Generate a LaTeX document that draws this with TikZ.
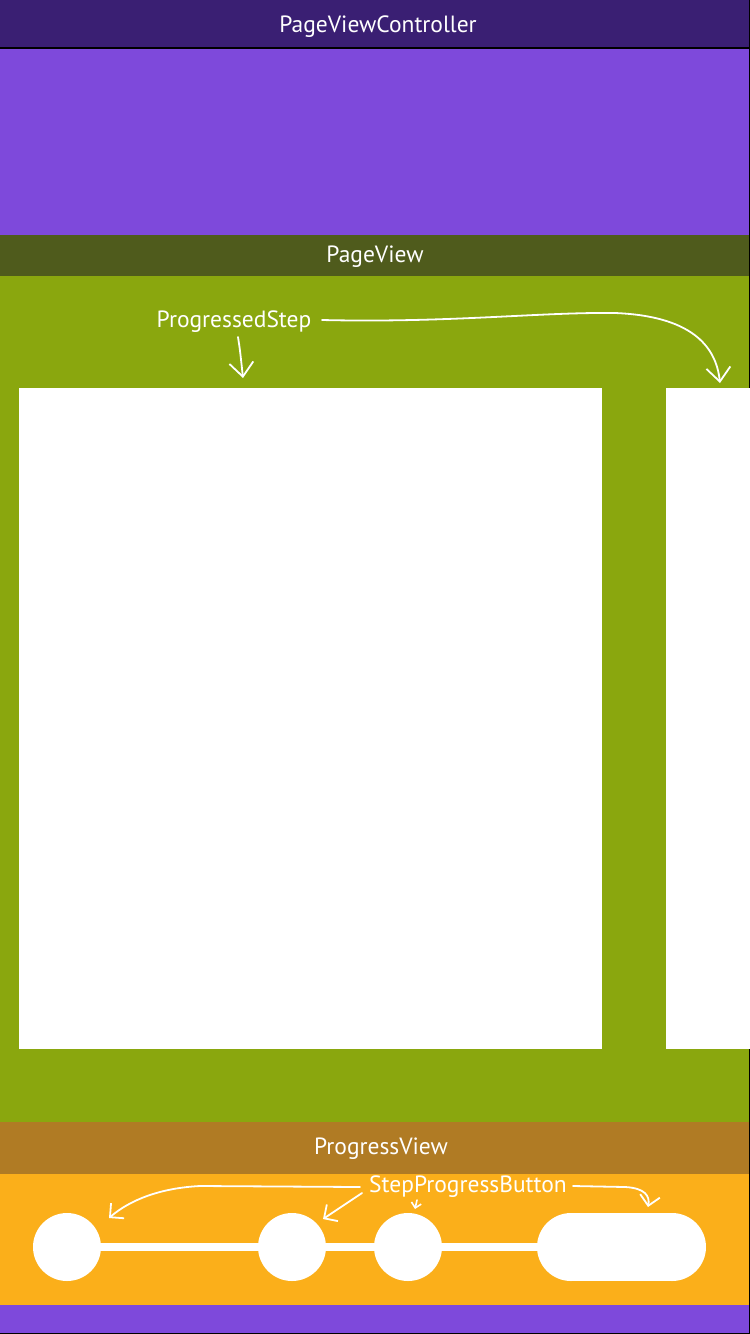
\documentclass[tikz,border=0pt]{standalone}
\usepackage{fontspec}
\setmainfont{PT Sans}
\usetikzlibrary{arrows.meta}
\definecolor{ctrlbar}{HTML}{3A1F73}
\definecolor{ctrlbody}{HTML}{7E49DB}
\definecolor{pagebar}{HTML}{4F5B1C}
\definecolor{pagebody}{HTML}{8AA70E}
\definecolor{progbar}{HTML}{B07B24}
\definecolor{progbody}{HTML}{FBAF1A}
\begin{document}
\begin{tikzpicture}[x=1pt,y=-1pt,
  label/.style={text=white,font=\fontsize{23.5}{26}\selectfont,inner sep=1pt},
  callout/.style={draw=white,line width=1.8pt,line cap=round,
    -{Straight Barb[length=10pt,width=20pt,line width=1.8pt]}},
  bigcallout/.style={draw=white,line width=1.8pt,line cap=round,
    -{Straight Barb[length=14pt,width=24pt,line width=1.8pt]}},
  smallcallout/.style={draw=white,line width=1.6pt,line cap=round,
    -{Straight Barb[length=5pt,width=10pt,line width=1.6pt]}},
  page/.style={fill=white},
  knob/.style={fill=white}]
\useasboundingbox (0,0) rectangle (750,1334);

% bands
\fill[ctrlbar] (0,0) rectangle (750,48);
\fill[ctrlbody] (0,48) rectangle (750,235);
\fill[pagebar] (0,235) rectangle (750,276);
\fill[pagebody] (0,276) rectangle (750,1122);
\fill[progbar] (0,1122) rectangle (750,1174);
\fill[progbody] (0,1174) rectangle (750,1305);
\fill[ctrlbody] (0,1305) rectangle (750,1334);
\draw[black,line width=1.2pt] (0,48) -- (750,48);
\draw[black,line width=1pt] (749.5,0) -- (749.5,1334);
\draw[black,line width=1pt] (0,1333.5) -- (750,1333.5);

% band titles
\node[label] (pvc) at (378,27) {PageViewController};
\node[label] (pv) at (375,257) {PageView};
\node[label] (prv) at (381,1149) {ProgressView};

% pages
\fill[page] (19,388) rectangle (602,1049);
\fill[page] (666,388) rectangle (750,1049);
\coordinate (pageA) at (243,378);
\coordinate (pageB) at (720,383);

\node[label] (ps) at (234,322) {ProgressedStep};
\draw[bigcallout] (238,337) .. controls (240,350) .. (pageA);
\draw[bigcallout] (322,320)
  .. controls (450,323) and (540,312) .. (615,313)
  .. controls (690,316) and (716,345) .. (pageB);

% progress track and buttons
\fill[white] (67,1243) rectangle (620,1251);
\fill[knob] (67,1247) circle (34);
\fill[knob] (292,1247) circle (34);
\fill[knob] (408,1247) circle (34);
\fill[knob] (571,1213) rectangle (672,1281);
\fill[knob] (571,1247) circle (34);
\fill[knob] (672,1247) circle (34);
\coordinate (btnA) at (109,1218);
\coordinate (btnB) at (323,1219);
\coordinate (btnC) at (415,1209);
\coordinate (btnD) at (648,1207);

\node[label] (spb) at (468,1187) {StepProgressButton};
\draw[callout] (360,1187) -- (200,1186) .. controls (160,1188) and (130,1200) .. (btnA);
\draw[callout] (362,1193) -- (btnB);
\draw[smallcallout] (417,1200) -- (btnC);
\draw[callout] (573,1186) -- (625,1187) .. controls (645,1188) and (650,1196) .. (btnD);
\end{tikzpicture}
\end{document}
